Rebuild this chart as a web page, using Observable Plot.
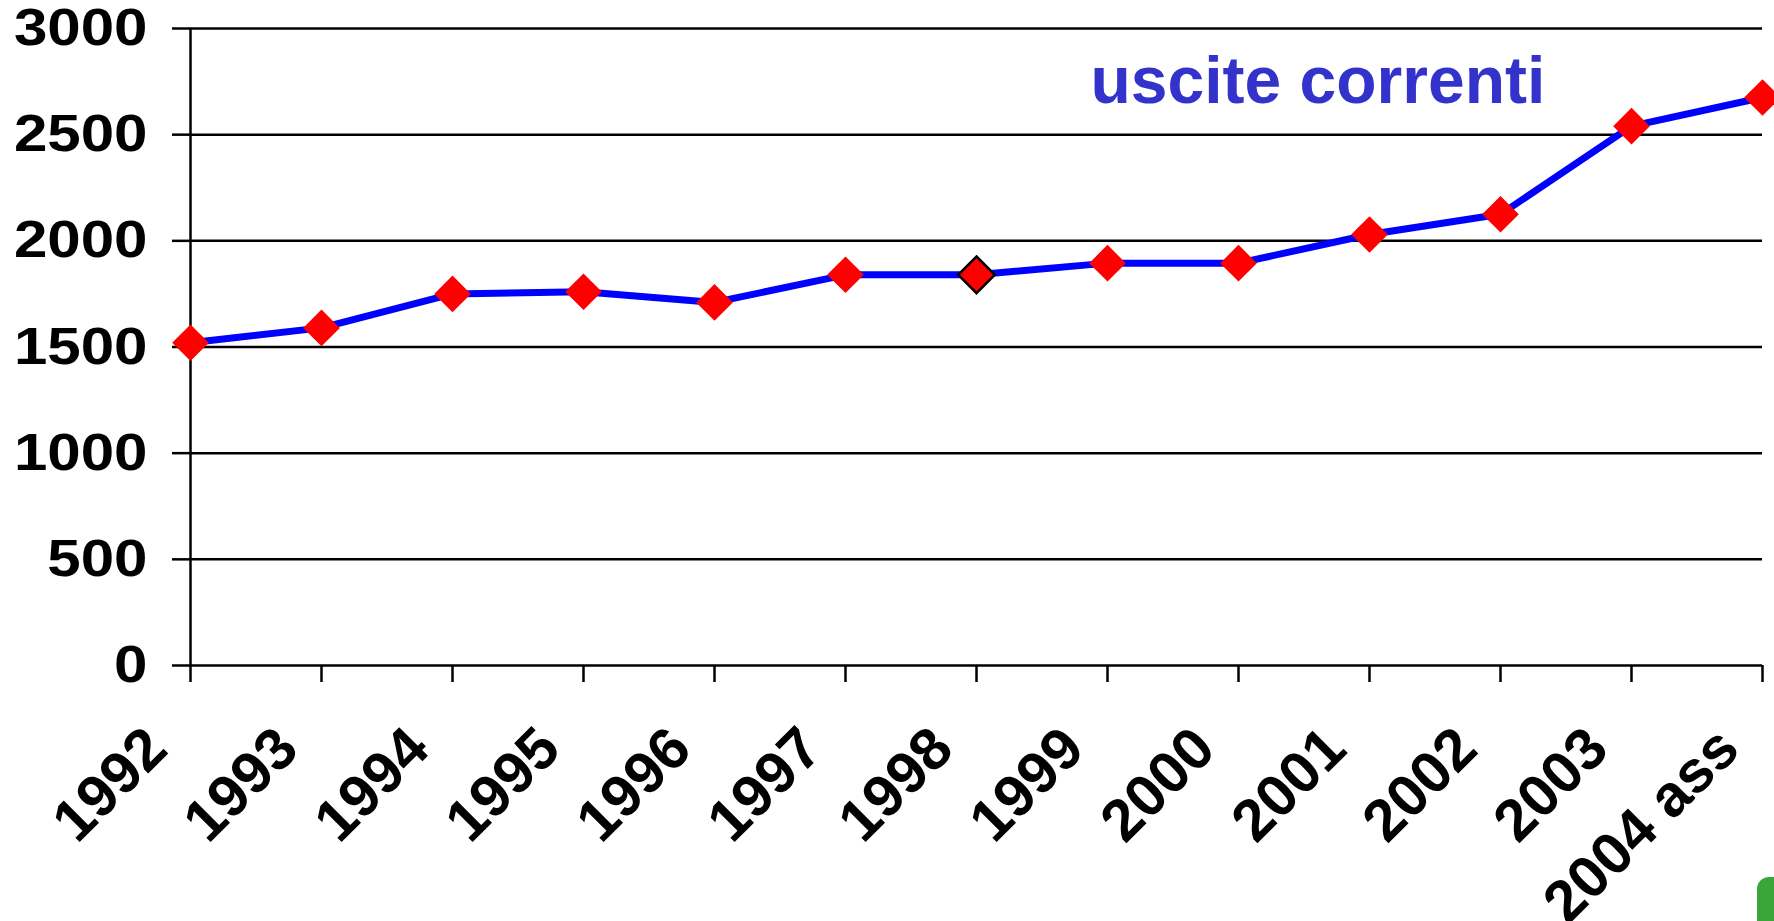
<!DOCTYPE html>
<html><head><meta charset="utf-8">
<script src="https://cdn.jsdelivr.net/npm/d3@7"></script>
<script src="https://cdn.jsdelivr.net/npm/@observablehq/plot@0.6"></script>
<style>
html,body{margin:0;padding:0;background:#fff;overflow:hidden;}
#chart{position:relative;width:1774px;height:921px;}
#blob{position:absolute;left:1757px;top:877px;width:30px;height:60px;background:#3aa63a;border-radius:12px 12px 0 0;}
</style></head><body><div id="chart"><div id="blob"></div></div>
<script>
const years = ["1992","1993","1994","1995","1996","1997","1998","1999","2000","2001","2002","2003","2004 ass"];
const values = [1520,1590,1750,1760,1710,1840,1840,1895,1895,2030,2125,2540,2675];
const yTicks = [0,500,1000,1500,2000,2500,3000];
const highlighted = ["1998"];
const title = "uscite correnti";

const data = years.map((year, i) => ({year, value: values[i]}));

const plot = Plot.plot({
  width: 1774, height: 921,
  marginLeft: 190, marginRight: 12, marginTop: 28, marginBottom: 256,
  style: {fontFamily: "'Liberation Sans', Arial, sans-serif", fontWeight: "bold", color: "black", background: "white", overflow: "visible"},
  x: {type: "point", domain: years, padding: 0},
  y: {domain: [0, 3000]},
  marks: [
    Plot.gridY(yTicks, {stroke: "black", strokeOpacity: 1, strokeWidth: 2.5}),
    Plot.axisY(yTicks, {tickSize: 18, tickPadding: 25, fontSize: 52, strokeWidth: 2.5, tickFormat: d => String(d), label: null}),
    Plot.ruleX([years[0]], {y1: 0, y2: 3000, stroke: "black", strokeWidth: 2.5}),
    Plot.axisX({tickSize: 17, strokeWidth: 2.5, tickFormat: () => "", label: null}),
    Plot.axisX({tickSize: 0, tickPadding: 73, tickRotate: -45, fontSize: 59, dx: -34, label: null}),
    Plot.line(data, {x: "year", y: "value", stroke: "#0000ff", strokeWidth: 7}),
    Plot.dot(data, {x: "year", y: "value", symbol: "diamond2", r: 16.5, fill: "red"}),
    Plot.dot(data.filter(d => highlighted.includes(d.year)), {x: "year", y: "value", symbol: "diamond2", r: 16.5, fill: "red", stroke: "black", strokeWidth: 2.5}),
    Plot.text([title], {frameAnchor: "top-left", dx: 900, dy: 74, lineAnchor: "bottom", textAnchor: "start", fill: "#3333cc", fontSize: 66, fontWeight: "bold"})
  ]
});
document.getElementById("chart").prepend(plot);
d3.select(plot).selectAll('g[aria-label="y-axis tick label"] text').each(function() {
  const t = this.textContent;
  this.setAttribute("textLength", t.length * 33.4);
  this.setAttribute("lengthAdjust", "spacingAndGlyphs");
});
</script>
</body></html>
